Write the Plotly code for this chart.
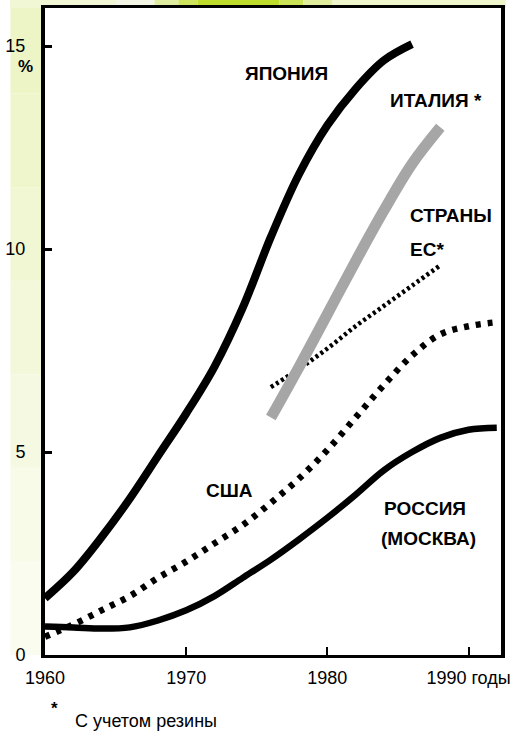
import plotly.graph_objects as go

# ---------------- data ----------------
years_japan = [1960, 1962, 1964, 1966, 1968, 1970, 1972, 1974, 1976, 1978, 1980, 1982, 1984, 1986]
japan = [1.4, 2.05, 2.9, 3.85, 4.9, 5.95, 7.1, 8.55, 10.3, 11.85, 13.05, 13.95, 14.65, 15.05]

years_italy = [1976, 1978, 1980, 1982, 1984, 1986, 1988]
italy = [5.85, 7.1, 8.4, 9.7, 10.95, 12.1, 13.0]

years_eu = [1976, 1978, 1980, 1982, 1984, 1986, 1988]
eu = [6.6, 7.05, 7.55, 8.1, 8.6, 9.1, 9.6]

years_usa = [1960, 1962, 1964, 1966, 1968, 1970, 1972, 1974, 1976, 1978, 1980, 1982, 1984, 1986, 1988, 1990, 1992]
usa = [0.45, 0.75, 1.1, 1.45, 1.9, 2.3, 2.75, 3.2, 3.75, 4.35, 5.05, 5.85, 6.65, 7.38, 7.9, 8.1, 8.2]

years_russia = [1960, 1962, 1964, 1966, 1968, 1970, 1972, 1974, 1976, 1978, 1980, 1982, 1984, 1986, 1988, 1990, 1992]
russia = [0.7, 0.68, 0.65, 0.68, 0.85, 1.1, 1.45, 1.9, 2.35, 2.85, 3.38, 3.95, 4.55, 5.0, 5.35, 5.55, 5.6]

x_tickvals = [1960, 1970, 1980, 1990]
x_ticktext = ["1960", "1970", "1980", "1990 годы"]
y_tickvals = [0, 5, 10, 15]
y_ticktext = ["0", "5", "10", "15"]

# ---------------- layout geometry ----------------
W, H = 516, 735
L, R, T, B = 36, 5, 8, 80
PW, PH = W - L - R, H - T - B

def px_x(p):
    return (p - L) / PW

def px_y(p):
    return (H - B - p) / PH

FONT = "Liberation Sans, Arial, sans-serif"

fig = go.Figure()

fig.add_trace(go.Scatter(x=years_russia, y=russia, mode="lines", line_shape="spline",
                         line=dict(color="black", width=6.5), showlegend=False))
fig.add_trace(go.Scatter(x=years_usa, y=usa, mode="lines", line_shape="spline",
                         line=dict(color="black", width=6.5, dash="5px,7px"), showlegend=False))
fig.add_trace(go.Scatter(x=years_eu, y=eu, mode="lines", line_shape="spline",
                         line=dict(color="black", width=4.5, dash="3px,3px"), showlegend=False))
fig.add_trace(go.Scatter(x=years_italy, y=italy, mode="lines", line_shape="spline",
                         line=dict(color="#a6a6a6", width=11), showlegend=False))
fig.add_trace(go.Scatter(x=years_japan, y=japan, mode="lines", line_shape="spline",
                         line=dict(color="black", width=8), showlegend=False))

# ---------------- background decoration ----------------
shapes = []
left_cols = ["#edf5c6", "#eff6cc", "#f1f7d3", "#f3f8da", "#f5f9e1", "#f7fbe8", "#f9fcef"]
n = len(left_cols)
for i, c in enumerate(left_cols):
    y0 = i * 655 / n
    y1 = (i + 1) * 655 / n
    shapes.append(dict(type="rect", xref="paper", yref="paper", layer="below",
                       x0=px_x(0), x1=px_x(L - 1), y0=px_y(y1), y1=px_y(y0),
                       fillcolor=c, line=dict(width=0)))
top_segments = [(0, 110, "#f1f7d4"), (110, 150, "#f4f7e6"), (150, 175, "#dfeda0"),
                (175, 195, "#cde45c"), (195, 280, "#bedc2c"), (280, 305, "#cbe356"),
                (305, 335, "#e0ee9e"), (335, 516, "#eff6cc")]
for a, b, c in top_segments:
    shapes.append(dict(type="rect", xref="paper", yref="paper", layer="below",
                       x0=px_x(a), x1=px_x(b), y0=px_y(T), y1=px_y(0),
                       fillcolor=c, line=dict(width=0)))

# ---------------- labels ----------------
ann = []
def label(text, x, y, size=19, xanchor="center", bold=True):
    t = f"<b>{text}</b>" if bold else text
    ann.append(dict(text=t, x=px_x(x), y=px_y(y), xref="paper", yref="paper",
                    showarrow=False, xanchor=xanchor, yanchor="middle",
                    font=dict(family=FONT, size=size, color="black")))

label("ЯПОНИЯ", 288, 74)
label("ИТАЛИЯ *", 443, 101)
label("СТРАНЫ", 414, 216, xanchor="left")
label("ЕС*", 414, 249, xanchor="left")
label("США", 228, 490)
label("РОССИЯ", 432, 508)
label("(МОСКВА)", 435, 538)
label("%", 16, 66, size=17)
label("*", 46, 708, size=17)
label("С учетом резины", 65, 721, size=18, xanchor="left", bold=False)

fig.update_layout(
    width=W, height=H,
    margin=dict(l=L, r=R, t=T, b=B, pad=0),
    paper_bgcolor="white",
    plot_bgcolor="white",
    shapes=shapes,
    annotations=ann,
    showlegend=False,
    xaxis=dict(range=[1960, 1992.3], tickvals=x_tickvals, ticktext=x_ticktext,
               ticks="inside", ticklen=8, tickwidth=2, tickcolor="black",
               showline=True, linecolor="black", linewidth=3, mirror=True,
               showgrid=False, zeroline=False, ticklabelstandoff=4,
               ticklabeloverflow="allow",
               tickfont=dict(family=FONT, size=18, color="black")),
    yaxis=dict(range=[0, 15.94], tickvals=y_tickvals, ticktext=y_ticktext,
               ticks="inside", ticklen=7, tickwidth=3, tickcolor="black",
               showline=True, linecolor="black", linewidth=4, mirror=True,
               showgrid=False, zeroline=False, ticklabelstandoff=12,
               tickfont=dict(family=FONT, size=18, color="black")),
)

fig.write_html("out.html", config={"displayModeBar": False},
               post_script="document.body.style.margin='0px';")
